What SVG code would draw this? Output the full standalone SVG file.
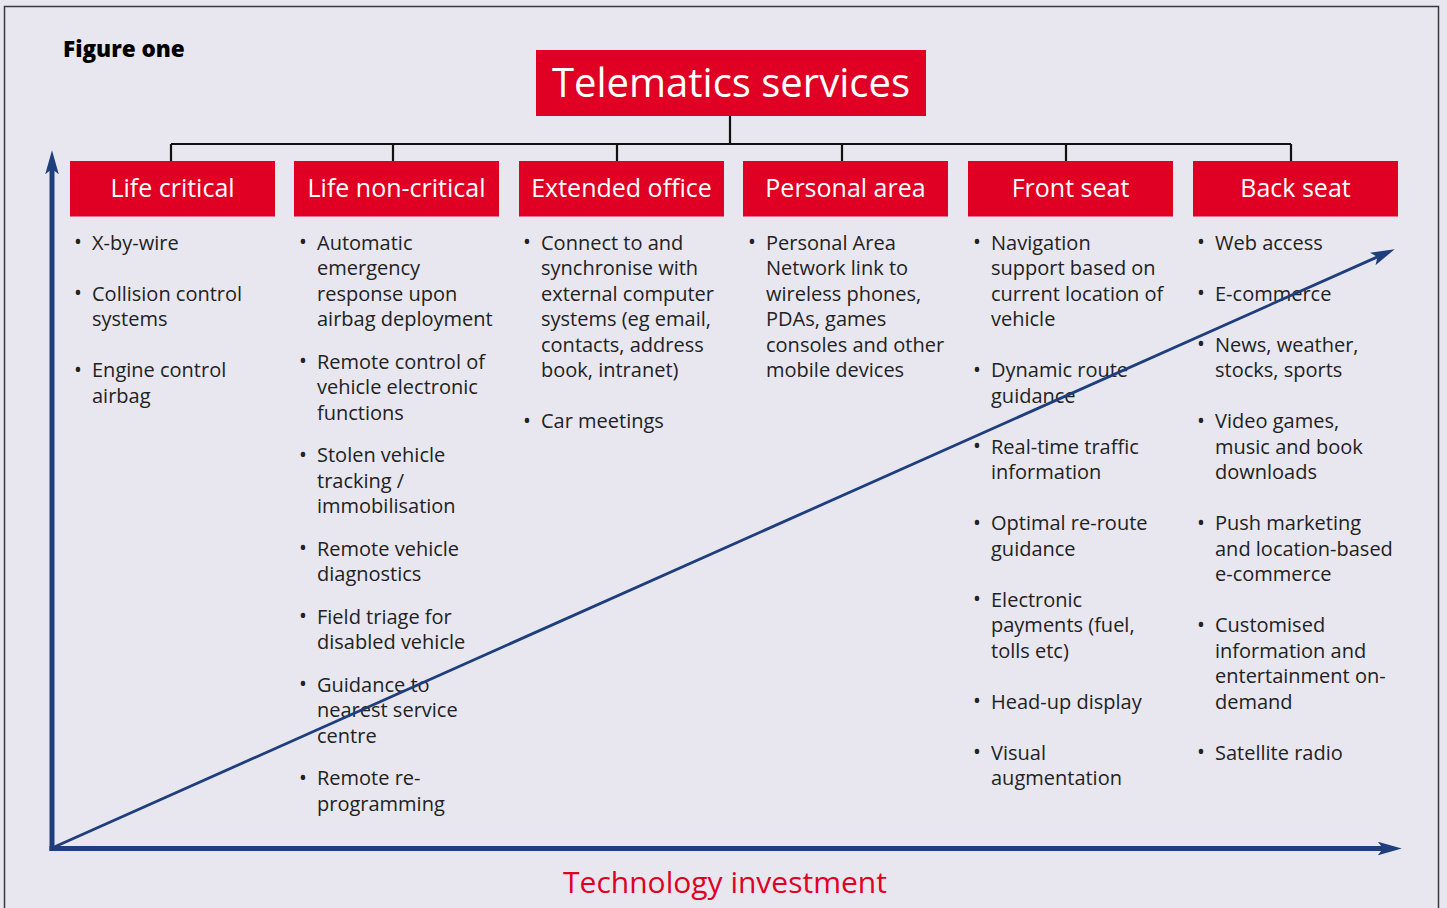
<svg xmlns="http://www.w3.org/2000/svg" width="1447" height="908" viewBox="0 0 1447 908">
<style>
.bg{fill:#E8E7F0}
.frame{fill:none;stroke:#3a3a3a;stroke-width:1.5}
.box{fill:#DF0024}
.hdr{font-family:"Open Sans","DejaVu Sans",sans-serif;font-size:25px;fill:#fff;text-anchor:middle}
.ttl{font-family:"Open Sans","DejaVu Sans",sans-serif;font-size:40px;fill:#fff;text-anchor:middle}
.item{font-family:"Open Sans","DejaVu Sans",sans-serif;font-size:20px;fill:#222;transform:translateY(0.5px)}
.bul{font-family:"Open Sans","DejaVu Sans",sans-serif;font-size:21px;fill:#222;text-anchor:middle;transform:translateY(1px)}
.tree{fill:none;stroke:#111;stroke-width:2.2}
.axis{fill:none;stroke:#1F3E7C;stroke-width:5}
.diag{fill:none;stroke:#1F3E7C;stroke-width:2.8}
.fig{font-family:"Open Sans","DejaVu Sans",sans-serif;font-size:22.5px;font-weight:800;fill:#000}
.xl{font-family:"Open Sans","DejaVu Sans",sans-serif;font-size:30px;fill:#DF0024;text-anchor:middle}
</style>
<defs>
<marker id="ah" markerUnits="userSpaceOnUse" markerWidth="24" markerHeight="14" viewBox="0 0 23 13" refX="5" refY="6.5" orient="auto">
<path d="M0,0 L23,6.5 L0,13 L5,6.5 Z" fill="#1F3E7C"/>
</marker>
</defs>
<rect class="bg" x="0" y="0" width="1447" height="908"/>
<rect class="frame" x="4.5" y="6.5" width="1434" height="930"/>
<text class="fig" x="63" y="57">Figure one</text>

<g id="connectors">
<path class="tree" d="M730,116 V144 M171,144 H1291 M171,144 V161 M393,144 V161 M617,144 V161 M842,144 V161 M1066,144 V161 M1291,144 V161"/>
</g>

<g id="title">
<rect class="box" x="536" y="50" width="390" height="66"/>
<text class="ttl" x="731" y="97">Telematics services</text>
</g>

<g id="life-critical">
<rect class="box" x="70" y="161" width="205" height="55.5"/>
<text class="hdr" x="172.5" y="197">Life critical</text>
<text class="bul" x="78" y="248">•</text>
<text class="item" x="92" y="249">X-by-wire</text>
<text class="bul" x="78" y="299">•</text>
<text class="item" x="92" y="300">Collision control</text>
<text class="item" x="92" y="325.5">systems</text>
<text class="bul" x="78" y="375.5">•</text>
<text class="item" x="92" y="376.5">Engine control</text>
<text class="item" x="92" y="402">airbag</text>
</g>

<g id="life-non-critical">
<rect class="box" x="294" y="161" width="205" height="55.5"/>
<text class="hdr" x="396.5" y="197">Life non-critical</text>
<text class="bul" x="303" y="248">•</text>
<text class="item" x="317" y="249">Automatic</text>
<text class="item" x="317" y="274.5">emergency</text>
<text class="item" x="317" y="300">response upon</text>
<text class="item" x="317" y="325.5">airbag deployment</text>
<text class="bul" x="303" y="367">•</text>
<text class="item" x="317" y="368">Remote control of</text>
<text class="item" x="317" y="393.5">vehicle electronic</text>
<text class="item" x="317" y="419">functions</text>
<text class="bul" x="303" y="460.5">•</text>
<text class="item" x="317" y="461.5">Stolen vehicle</text>
<text class="item" x="317" y="487">tracking /</text>
<text class="item" x="317" y="512.5">immobilisation</text>
<text class="bul" x="303" y="554">•</text>
<text class="item" x="317" y="555">Remote vehicle</text>
<text class="item" x="317" y="580.5">diagnostics</text>
<text class="bul" x="303" y="622">•</text>
<text class="item" x="317" y="623">Field triage for</text>
<text class="item" x="317" y="648.5">disabled vehicle</text>
<text class="bul" x="303" y="690">•</text>
<text class="item" x="317" y="691">Guidance to</text>
<text class="item" x="317" y="716.5">nearest service</text>
<text class="item" x="317" y="742">centre</text>
<text class="bul" x="303" y="783.5">•</text>
<text class="item" x="317" y="784.5">Remote re-</text>
<text class="item" x="317" y="810">programming</text>
</g>

<g id="extended-office">
<rect class="box" x="519" y="161" width="205" height="55.5"/>
<text class="hdr" x="621.5" y="197">Extended office</text>
<text class="bul" x="527" y="248">•</text>
<text class="item" x="541" y="249">Connect to and</text>
<text class="item" x="541" y="274.5">synchronise with</text>
<text class="item" x="541" y="300">external computer</text>
<text class="item" x="541" y="325.5">systems (eg email,</text>
<text class="item" x="541" y="351">contacts, address</text>
<text class="item" x="541" y="376.5">book, intranet)</text>
<text class="bul" x="527" y="426.5">•</text>
<text class="item" x="541" y="427.5">Car meetings</text>
</g>

<g id="personal-area">
<rect class="box" x="743" y="161" width="205" height="55.5"/>
<text class="hdr" x="845.5" y="197">Personal area</text>
<text class="bul" x="752" y="248">•</text>
<text class="item" x="766" y="249">Personal Area</text>
<text class="item" x="766" y="274.5">Network link to</text>
<text class="item" x="766" y="300">wireless phones,</text>
<text class="item" x="766" y="325.5">PDAs, games</text>
<text class="item" x="766" y="351">consoles and other</text>
<text class="item" x="766" y="376.5">mobile devices</text>
</g>

<g id="front-seat">
<rect class="box" x="968" y="161" width="205" height="55.5"/>
<text class="hdr" x="1070.5" y="197">Front seat</text>
<text class="bul" x="977" y="248">•</text>
<text class="item" x="991" y="249">Navigation</text>
<text class="item" x="991" y="274.5">support based on</text>
<text class="item" x="991" y="300">current location of</text>
<text class="item" x="991" y="325.5">vehicle</text>
<text class="bul" x="977" y="375.5">•</text>
<text class="item" x="991" y="376.5">Dynamic route</text>
<text class="item" x="991" y="402">guidance</text>
<text class="bul" x="977" y="452">•</text>
<text class="item" x="991" y="453">Real-time traffic</text>
<text class="item" x="991" y="478.5">information</text>
<text class="bul" x="977" y="528.5">•</text>
<text class="item" x="991" y="529.5">Optimal re-route</text>
<text class="item" x="991" y="555">guidance</text>
<text class="bul" x="977" y="605">•</text>
<text class="item" x="991" y="606">Electronic</text>
<text class="item" x="991" y="631.5">payments (fuel,</text>
<text class="item" x="991" y="657">tolls etc)</text>
<text class="bul" x="977" y="707">•</text>
<text class="item" x="991" y="708">Head-up display</text>
<text class="bul" x="977" y="758">•</text>
<text class="item" x="991" y="759">Visual</text>
<text class="item" x="991" y="784.5">augmentation</text>
</g>

<g id="back-seat">
<rect class="box" x="1193" y="161" width="205" height="55.5"/>
<text class="hdr" x="1295.5" y="197">Back seat</text>
<text class="bul" x="1201" y="248">•</text>
<text class="item" x="1215" y="249">Web access</text>
<text class="bul" x="1201" y="299">•</text>
<text class="item" x="1215" y="300">E-commerce</text>
<text class="bul" x="1201" y="350">•</text>
<text class="item" x="1215" y="351">News, weather,</text>
<text class="item" x="1215" y="376.5">stocks, sports</text>
<text class="bul" x="1201" y="426.5">•</text>
<text class="item" x="1215" y="427.5">Video games,</text>
<text class="item" x="1215" y="453">music and book</text>
<text class="item" x="1215" y="478.5">downloads</text>
<text class="bul" x="1201" y="528.5">•</text>
<text class="item" x="1215" y="529.5">Push marketing</text>
<text class="item" x="1215" y="555">and location-based</text>
<text class="item" x="1215" y="580.5">e-commerce</text>
<text class="bul" x="1201" y="630.5">•</text>
<text class="item" x="1215" y="631.5">Customised</text>
<text class="item" x="1215" y="657">information and</text>
<text class="item" x="1215" y="682.5">entertainment on-</text>
<text class="item" x="1215" y="708">demand</text>
<text class="bul" x="1201" y="758">•</text>
<text class="item" x="1215" y="759">Satellite radio</text>
</g>

<g id="axes">
<line class="axis" x1="52" y1="851" x2="52" y2="169" marker-end="url(#ah)"/>
<line class="axis" x1="49.5" y1="848.5" x2="1383" y2="848.5" marker-end="url(#ah)"/>
<line class="diag" x1="52" y1="848" x2="1377.5" y2="256.9" marker-end="url(#ah)"/>
</g>
<text class="xl" x="725" y="893">Technology investment</text>
</svg>
